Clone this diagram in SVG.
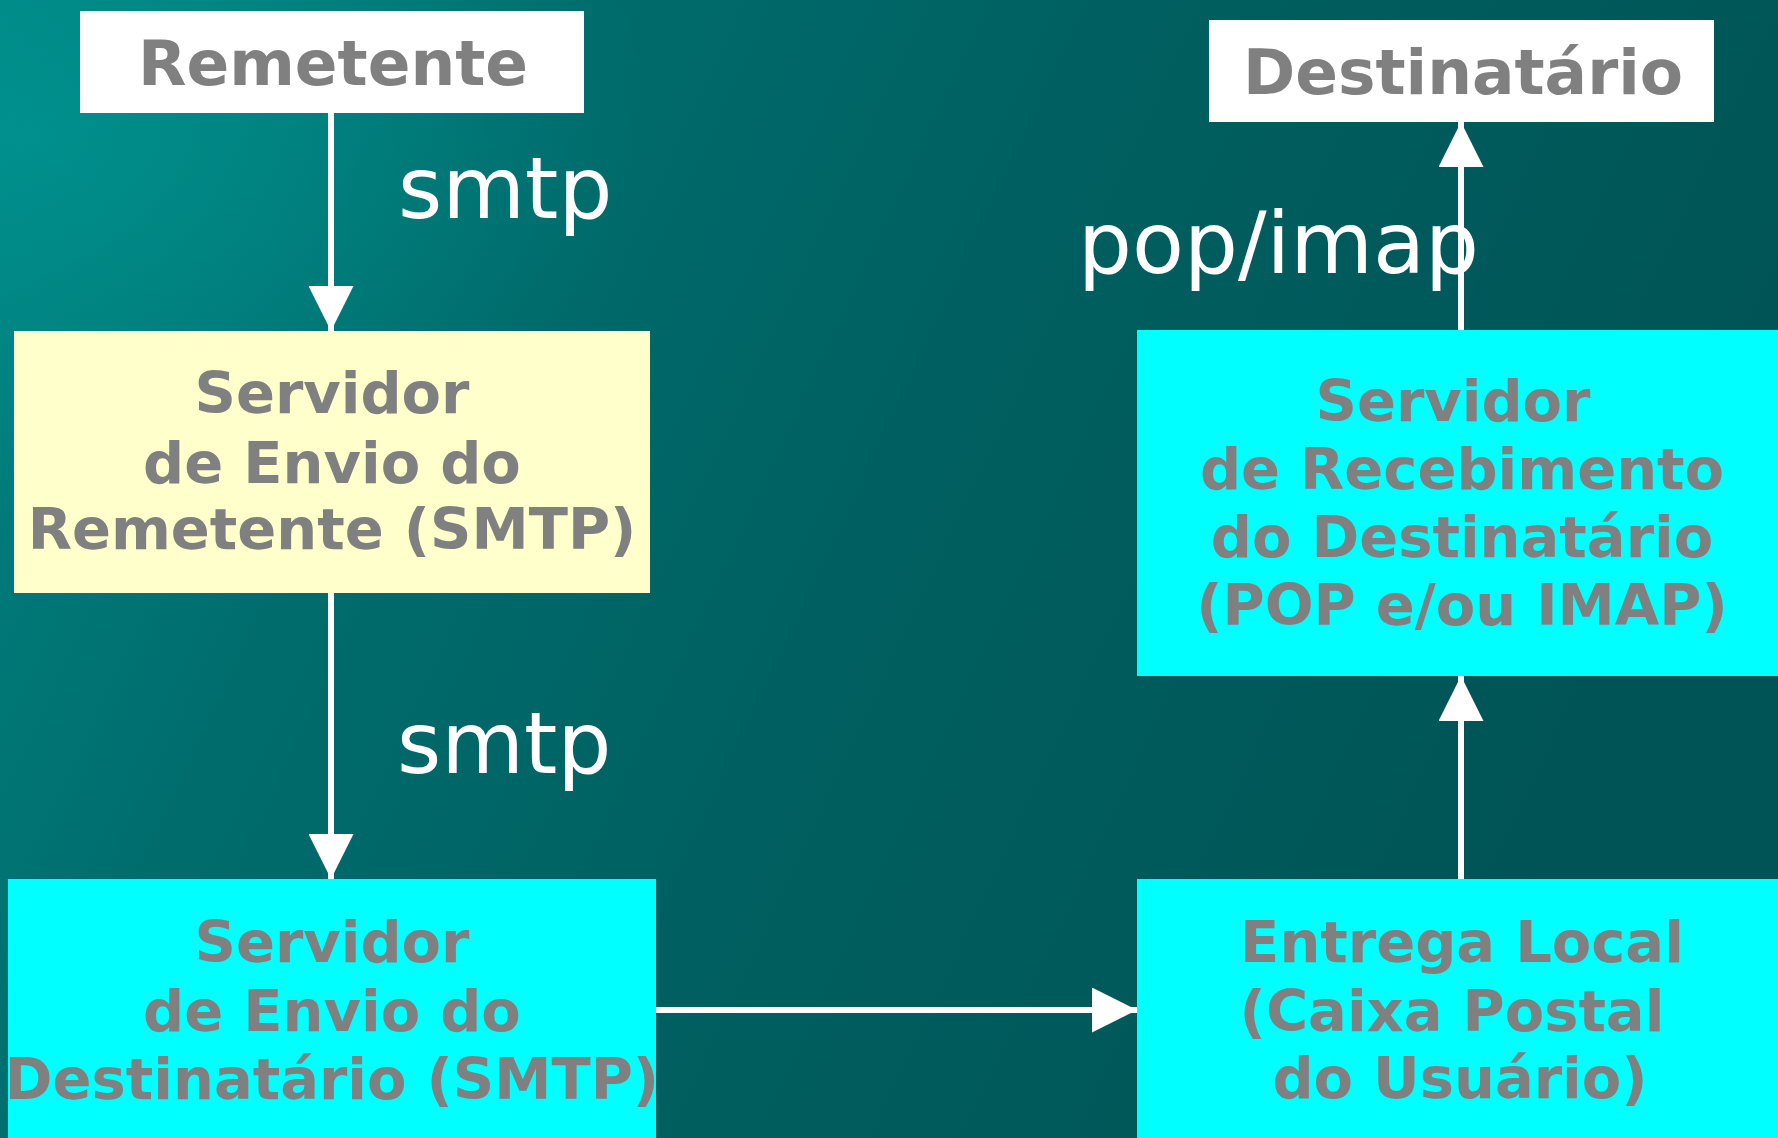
<svg xmlns="http://www.w3.org/2000/svg" width="1778" height="1138" viewBox="0 0 1778 1138">
<defs>
<linearGradient id="bg" x1="0" y1="0" x2="1" y2="0.3">
<stop offset="0" stop-color="#008482"/>
<stop offset="0.3" stop-color="#006c6c"/>
<stop offset="0.6" stop-color="#005f60"/>
<stop offset="1" stop-color="#005455"/>
</linearGradient>
<radialGradient id="hl" cx="0.02" cy="0.12" r="0.35">
<stop offset="0" stop-color="#009a96" stop-opacity="0.6"/>
<stop offset="1" stop-color="#009a96" stop-opacity="0"/>
</radialGradient>
<marker id="ah" viewBox="0 0 45 45" refX="45" refY="22.5" markerWidth="45" markerHeight="45" markerUnits="userSpaceOnUse" orient="auto">
<path d="M0,0 L45,22.5 L0,45 Z" fill="#ffffff"/>
</marker>
<style>
.box{stroke:none}
.white{fill:#ffffff}
.yellow{fill:#ffffcc}
.cyan{fill:#00ffff}
.lbl{font-family:"DejaVu Sans",sans-serif;font-weight:bold;fill:#808080;text-anchor:middle;font-size:57.5px}
.title{font-size:63px}
.proto{font-family:"DejaVu Sans",sans-serif;fill:#ffffff;font-size:85px}
.conn{stroke:#ffffff;stroke-width:6;fill:none;marker-end:url(#ah)}
</style>
</defs>
<rect x="0" y="0" width="1778" height="1138" fill="url(#bg)"/>
<rect x="0" y="0" width="1778" height="1138" fill="url(#hl)"/>

<g id="connectors">
<line class="conn" x1="331" y1="113" x2="331" y2="331"/>
<line class="conn" x1="331" y1="593" x2="331" y2="879"/>
<line class="conn" x1="656" y1="1010" x2="1137" y2="1010"/>
<line class="conn" x1="1461" y1="879" x2="1461" y2="676"/>
<line class="conn" x1="1461" y1="330" x2="1461" y2="122"/>
</g>

<g id="label-smtp1"><text class="proto" x="398" y="218">smtp</text></g>
<g id="label-smtp2"><text class="proto" x="397" y="773">smtp</text></g>
<g id="label-popimap"><text class="proto" x="1078" y="273">pop/imap</text></g>

<g id="remetente">
<rect class="box white" x="80" y="11" width="504" height="102"/>
<text class="lbl title" x="333" y="85">Remetente</text>
</g>

<g id="destinatario">
<rect class="box white" x="1209" y="20" width="505" height="102"/>
<text class="lbl title" x="1463" y="94">Destinatário</text>
</g>

<g id="servidor-envio-remetente">
<rect class="box yellow" x="14" y="331" width="636" height="262"/>
<text class="lbl" x="332" y="413">Servidor</text>
<text class="lbl" x="332" y="483">de Envio do</text>
<text class="lbl" x="332" y="549">Remetente (SMTP)</text>
</g>

<g id="servidor-recebimento">
<rect class="box cyan" x="1137" y="330" width="641" height="346"/>
<text class="lbl" x="1453" y="421">Servidor</text>
<text class="lbl" x="1462" y="489">de Recebimento</text>
<text class="lbl" x="1462" y="557">do Destinatário</text>
<text class="lbl" x="1462" y="625">(POP e/ou IMAP)</text>
</g>

<g id="servidor-envio-destinatario">
<rect class="box cyan" x="8" y="879" width="648" height="259"/>
<text class="lbl" x="332" y="962">Servidor</text>
<text class="lbl" x="332" y="1031">de Envio do</text>
<text class="lbl" x="332" y="1099">Destinatário (SMTP)</text>
</g>

<g id="entrega-local">
<rect class="box cyan" x="1137" y="879" width="641" height="259"/>
<text class="lbl" x="1462" y="962">Entrega Local</text>
<text class="lbl" x="1452" y="1031">(Caixa Postal</text>
<text class="lbl" x="1460" y="1098">do Usuário)</text>
</g>
</svg>
